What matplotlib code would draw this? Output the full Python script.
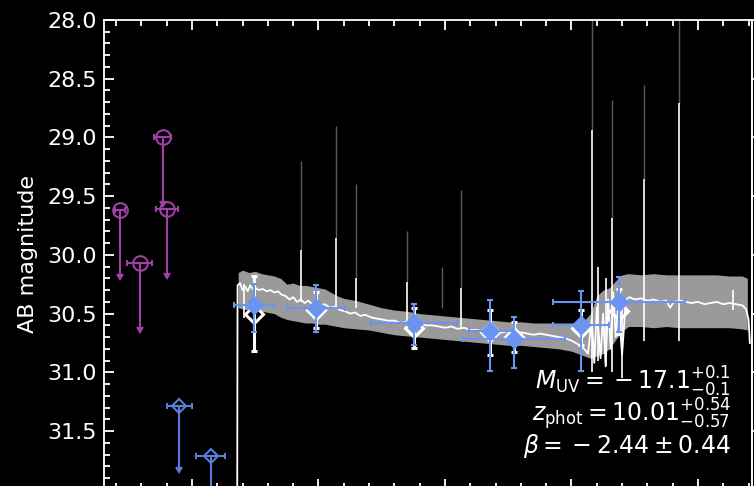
import matplotlib
matplotlib.use('Agg')
import matplotlib.pyplot as plt
from matplotlib.ticker import MultipleLocator, NullLocator

# HST upper limits (observed wavelength in micron, AB mag)
hst_wave = [0.431, 0.585, 0.768, 0.802]
hst_werr = [0.04, 0.10, 0.065, 0.087]
hst_lim = [29.62, 30.07, 29.00, 29.61]

# NIRCam upper limits
lim_wave = [0.90, 1.148]
lim_werr = [0.10, 0.115]
lim_mag = [31.29, 31.71]

# NIRCam detections
nrc_wave = [1.49, 1.98, 2.757, 3.356, 3.545, 4.073, 4.375]
nrc_werr = [0.155, 0.23, 0.34, 0.17, 0.40, 0.22, 0.52]
nrc_mag = [30.43, 30.45, 30.58, 30.65, 30.72, 30.60, 30.40]
nrc_err_lo = [0.18, 0.19, 0.16, 0.27, 0.19, 0.29, 0.21]
nrc_err_hi = [0.23, 0.21, 0.19, 0.34, 0.24, 0.39, 0.26]

# photometry synthesised from the spectrum
syn_mag = [30.50, 30.47, 30.62, 30.66, 30.70, 30.62, 30.48]
syn_err = [0.32, 0.15, 0.17, 0.19, 0.13, 0.15, 0.19]

# spectrum, median
spec_wave = [1.356, 1.360, 1.38, 1.40, 1.42, 1.44, 1.46, 1.48, 1.50, 1.53, 1.56,
             1.59, 1.62, 1.65, 1.68, 1.71, 1.74, 1.77, 1.80, 1.83, 1.86, 1.89,
             1.92, 1.95, 1.98, 2.01, 2.05, 2.09, 2.13, 2.17, 2.21, 2.25, 2.29,
             2.33, 2.37, 2.41, 2.45, 2.50, 2.55, 2.60, 2.65, 2.70, 2.75, 2.80,
             2.85, 2.90, 2.95, 3.00, 3.05, 3.10, 3.15, 3.20, 3.25, 3.30, 3.35,
             3.40, 3.45, 3.50, 3.55, 3.60, 3.65, 3.70, 3.75, 3.80, 3.85, 3.90,
             3.95, 4.00, 4.05, 4.10, 4.13, 4.16, 4.18, 4.20, 4.23, 4.25, 4.27,
             4.29, 4.31, 4.33, 4.35, 4.37, 4.40, 4.43, 4.46, 4.50, 4.55, 4.60,
             4.65, 4.70, 4.75, 4.78, 4.81, 4.86, 4.90, 4.95, 5.00, 5.05, 5.10,
             5.15, 5.20, 5.25, 5.30, 5.35, 5.38, 5.40, 5.41]
spec_mag = [33.0, 30.26, 30.24, 30.30, 30.27, 30.31, 30.26, 30.29, 30.28, 30.30, 30.29,
            30.31, 30.30, 30.32, 30.31, 30.34, 30.35, 30.38, 30.36, 30.40, 30.38, 30.41,
            30.39, 30.42, 30.40, 30.43, 30.42, 30.45, 30.44, 30.47, 30.48, 30.50, 30.49,
            30.52, 30.51, 30.53, 30.54, 30.55, 30.56, 30.56, 30.58, 30.57, 30.59, 30.58,
            30.60, 30.60, 30.61, 30.62, 30.61, 30.63, 30.62, 30.64, 30.64, 30.65, 30.65,
            30.66, 30.66, 30.65, 30.67, 30.66, 30.67, 30.68, 30.67, 30.68, 30.69, 30.70,
            30.71, 30.73, 30.76, 30.80, 30.84, 30.55, 30.92, 30.45, 30.88, 30.50, 30.95,
            30.38, 30.80, 30.32, 30.70, 30.42, 30.85, 30.38, 30.36, 30.38, 30.37, 30.39,
            30.38, 30.40, 30.39, 30.45, 30.40, 30.39, 30.40, 30.41, 30.40, 30.42, 30.41,
            30.40, 30.42, 30.41, 30.42, 30.43, 30.46, 30.55, 30.75]

# spectrum, 1-sigma band
band_wave = [1.365, 1.40, 1.45, 1.50, 1.55, 1.60, 1.65, 1.70, 1.75, 1.80, 1.85,
             1.90, 1.95, 2.00, 2.05, 2.10, 2.15, 2.20, 2.30, 2.40, 2.50, 2.60,
             2.70, 2.80, 2.90, 3.00, 3.10, 3.20, 3.30, 3.40, 3.50, 3.60, 3.70,
             3.80, 3.90, 4.00, 4.10, 4.15, 4.20, 4.25, 4.30, 4.35, 4.40, 4.45,
             4.55, 4.65, 4.75, 4.85, 4.95, 5.05, 5.15, 5.25, 5.35, 5.39]
band_top = [30.15, 30.13, 30.15, 30.14, 30.16, 30.17, 30.18, 30.20, 30.25, 30.24, 30.26,
            30.26, 30.27, 30.28, 30.29, 30.32, 30.35, 30.37, 30.39, 30.42, 30.45, 30.47,
            30.48, 30.50, 30.51, 30.52, 30.53, 30.54, 30.55, 30.56, 30.57, 30.57, 30.58,
            30.58, 30.58, 30.58, 30.56, 30.50, 30.35, 30.30, 30.28, 30.22, 30.17, 30.16,
            30.17, 30.16, 30.17, 30.17, 30.17, 30.17, 30.17, 30.18, 30.18, 30.20]
band_bot = [30.45, 30.46, 30.47, 30.47, 30.48, 30.49, 30.50, 30.53, 30.55, 30.56, 30.57,
            30.58, 30.58, 30.59, 30.59, 30.60, 30.61, 30.62, 30.63, 30.64, 30.66, 30.68,
            30.69, 30.70, 30.71, 30.72, 30.73, 30.74, 30.75, 30.76, 30.77, 30.77, 30.78,
            30.79, 30.80, 30.82, 30.86, 30.88, 30.86, 30.84, 30.80, 30.72, 30.65, 30.61,
            30.61, 30.62, 30.61, 30.62, 30.62, 30.62, 30.62, 30.62, 30.63, 30.64]

# narrow spikes in the spectrum (white part and faint part)
spike_wave = [1.41, 1.862, 2.138, 2.300, 2.697, 3.126, 4.162, 4.21, 4.27, 4.318,
              4.399, 4.573, 4.847, 5.277]
spike_top = [30.25, 29.96, 29.86, 30.20, 30.23, 30.28, 28.94, 30.10, 30.20, 29.69,
             30.40, 29.35, 28.71, 30.30]
spike_bot = [30.54, 30.40, 30.45, 30.45, 30.58, 30.62, 31.00, 30.90, 30.95, 31.00,
             31.05, 30.73, 30.73, 30.47]
faint_wave = [1.862, 2.138, 2.300, 2.697, 2.974, 3.126, 4.162, 4.318, 4.573, 4.847]
faint_top = [29.20, 28.90, 29.40, 29.80, 30.10, 29.45, 28.00, 28.68, 28.55, 28.00]
faint_bot = [29.96, 29.86, 30.20, 30.23, 30.45, 30.28, 28.94, 29.69, 29.35, 28.71]

purple = '#a23fa6'
blue_lim = '#5a7dd7'
blue = '#6b93f2'

fig = plt.figure(figsize=(7.54, 4.86), dpi=100, facecolor='black')
ax = fig.add_axes([104 / 754, -2.6 / 486, 648 / 754, 468.6 / 486])
ax.set_facecolor('black')
ax.set_xlim(0.3043, 5.427)
ax.set_ylim(31.99, 28.0)

# spectrum
ax.fill_between(band_wave, band_top, band_bot, color='#9a9a9a', lw=0, zorder=1)
ax.vlines(faint_wave, faint_top, faint_bot, color='#5a5a5a', lw=1.0, zorder=1)
ax.plot(spec_wave, spec_mag, color='white', lw=1.3, zorder=2)
ax.vlines(spike_wave, spike_top, spike_bot, color='white', lw=1.2, zorder=2)

# upper limits
ax.errorbar(hst_wave, hst_lim, xerr=hst_werr, yerr=0.54, lolims=True, fmt='o',
            ms=10.5, mfc='none', mec=purple, mew=1.5, color=purple,
            elinewidth=1.5, capsize=2.5, capthick=1.5, zorder=4)
ax.errorbar(lim_wave, lim_mag, xerr=lim_werr, yerr=0.52, lolims=True, fmt='D',
            ms=7.5, mfc='none', mec=blue_lim, mew=1.5, color=blue_lim,
            elinewidth=1.5, capsize=2.5, capthick=1.5, zorder=4)

# synthetic photometry from spectrum
ax.errorbar(nrc_wave, syn_mag, yerr=syn_err, fmt='D', ms=9.5, mfc='none',
            mec='white', mew=2.2, color='white', elinewidth=2.2, capsize=2.5,
            capthick=2.2, zorder=3)

# detections
ax.errorbar(nrc_wave, nrc_mag, xerr=nrc_werr, yerr=[nrc_err_lo, nrc_err_hi],
            fmt='D', ms=9.3, mfc=blue, mec=blue, color=blue, elinewidth=1.5,
            capsize=2.5, capthick=1.5, zorder=5)

ax.text(0.968, 0.2104, r'$M_{\rm UV} = {} - 17.1^{+0.1}_{-0.1}$', transform=ax.transAxes,
        ha='right', va='baseline', color='white', fontsize=17, zorder=6)
ax.text(0.968, 0.1428, r'$z_{\rm phot} = 10.01^{+0.54}_{-0.57}$', transform=ax.transAxes,
        ha='right', va='baseline', color='white', fontsize=17, zorder=6)
ax.text(0.968, 0.0753, r'$\beta = {} - 2.44 \pm 0.44$', transform=ax.transAxes,
        ha='right', va='baseline', color='white', fontsize=17, zorder=6)

ax.set_ylabel('AB magnitude', color='white', fontsize=16, labelpad=7)

ax.xaxis.set_major_locator(MultipleLocator(1.0))
ax.xaxis.set_minor_locator(MultipleLocator(0.2))
ax.yaxis.set_major_locator(MultipleLocator(0.5))
ax.yaxis.set_minor_locator(MultipleLocator(0.1))
ax.tick_params(which='both', direction='in', colors='white', top=True,
               bottom=True, left=True, right=False, labelbottom=False,
               labelsize=16, width=1.3, pad=5)
ax.tick_params(which='major', length=7)
ax.tick_params(which='minor', length=4)
for s in ax.spines.values():
    s.set_color('white')
    s.set_linewidth(1.3)

# right axis with outward ticks
sec = ax.secondary_yaxis('right', functions=(lambda y: y, lambda y: y))
sec.yaxis.set_major_locator(MultipleLocator(0.5))
sec.yaxis.set_minor_locator(NullLocator())
sec.tick_params(direction='out', colors='white', length=7, width=1.3,
                labelright=False)
sec.spines['right'].set_color('white')
sec.spines['right'].set_linewidth(1.3)

fig.savefig('out.png', dpi=100, facecolor='black')
